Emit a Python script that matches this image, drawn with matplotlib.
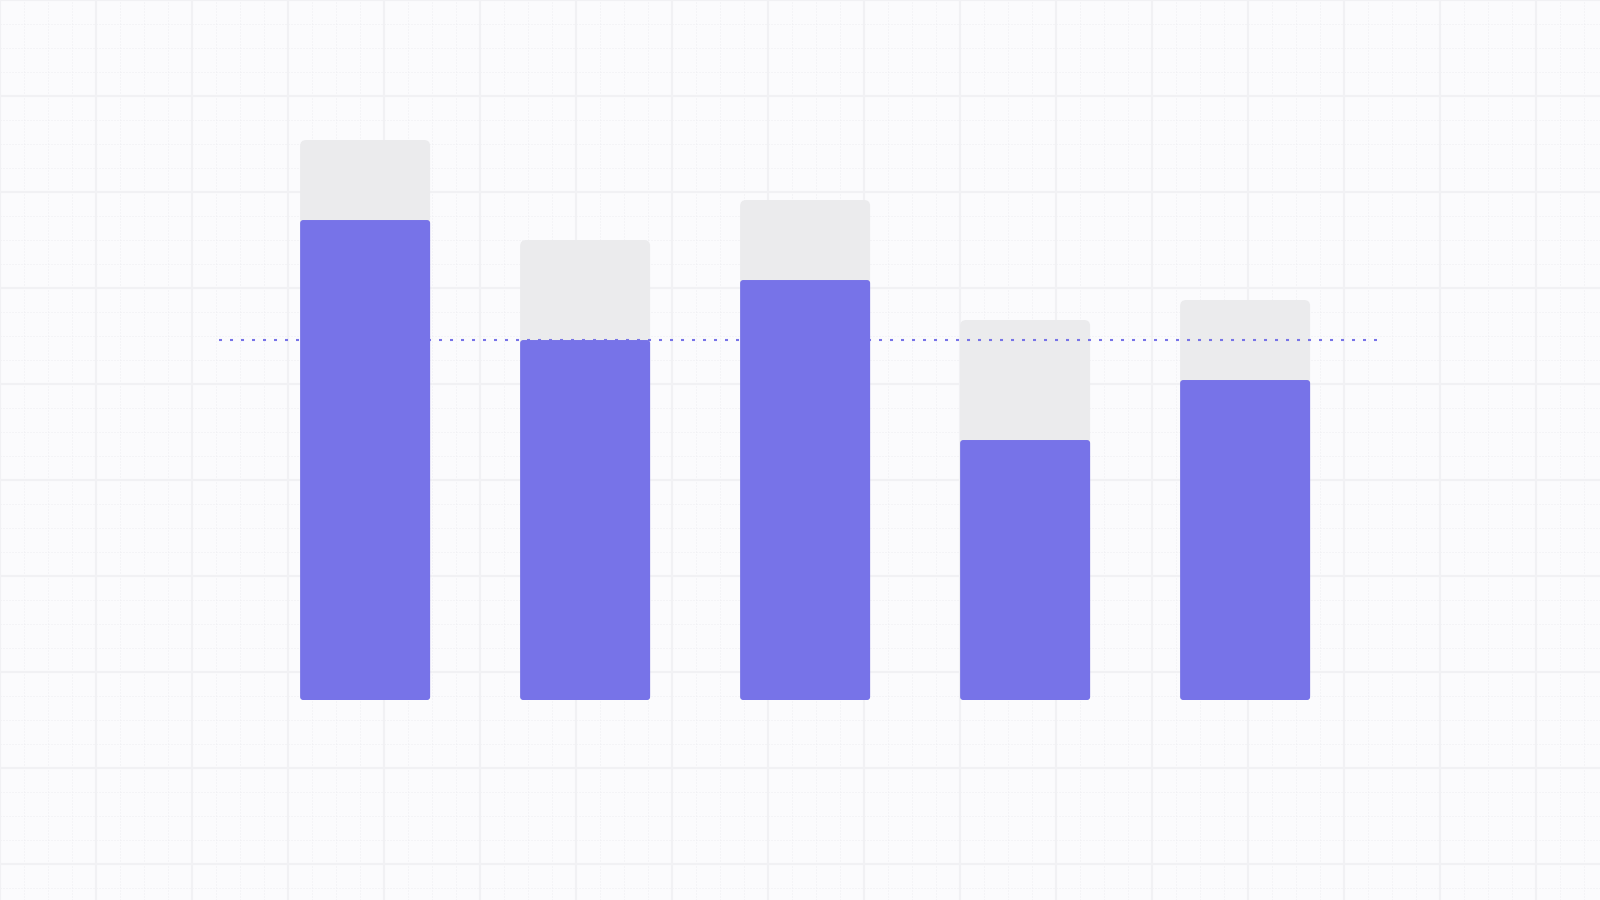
import numpy as np
import matplotlib
matplotlib.use("Agg")
import matplotlib.pyplot as plt
from matplotlib.patches import FancyBboxPatch

# values
categories = ["A", "B", "C", "D", "E"]
actual = [120, 90, 105, 65, 80]
capacity = [140, 115, 125, 95, 100]
target = 90

purple = "#7773E8"
track = "#EBEBED"
bg = "#FBFBFD"

fig = plt.figure(figsize=(16, 9), dpi=100, facecolor=bg)

# background grid paper, in pixel units
gax = fig.add_axes([0, 0, 1, 1], zorder=0)
gax.set_xlim(0, 1600)
gax.set_ylim(900, 0)
gax.set_facecolor(bg)
gax.axis("off")
for v in np.arange(0, 1601, 24):
    if v % 96:
        gax.axvline(v, color="#EEEEF2", lw=0.72, ls=(0, (1, 2)))
for h in np.arange(0, 901, 24):
    if h % 96:
        gax.axhline(h, color="#EEEEF2", lw=0.72, ls=(0, (1, 2)))
for v in np.arange(0, 1601, 96):
    gax.axvline(v, color="#F1F1F4", lw=1.5)
for h in np.arange(0, 901, 96):
    gax.axhline(h, color="#F1F1F4", lw=1.5)

# chart
ax = fig.add_axes([0.1369, 0.2222, 0.7238, 0.7111], zorder=1)
ax.patch.set_alpha(0)
ax.set_xlim(-0.664, 4.6)
ax.set_ylim(0, 160)
ax.axis("off")

x = np.arange(len(categories))
width = 130 / 220
aspect = (0.7111 * 900 / 160) ** -1 * (0.7238 * 1600 / 5.264)

# target line sits over the grey track but under the purple bars
ax.axhline(target, color=purple, lw=1.5, ls=(0, (1.45, 3.83)), zorder=2.5)

for xi, cap, val in zip(x, capacity, actual):
    ax.add_patch(FancyBboxPatch((xi - width / 2, 0), width, cap,
                                boxstyle="round,pad=0,rounding_size=0.027",
                                mutation_aspect=aspect, fc=track, ec="none", zorder=2))
    ax.add_patch(FancyBboxPatch((xi - width / 2, 0), width, val,
                                boxstyle="round,pad=0,rounding_size=0.014",
                                mutation_aspect=aspect, fc=purple, ec="none", zorder=3))

fig.savefig("out.png", dpi=100, facecolor=bg)
